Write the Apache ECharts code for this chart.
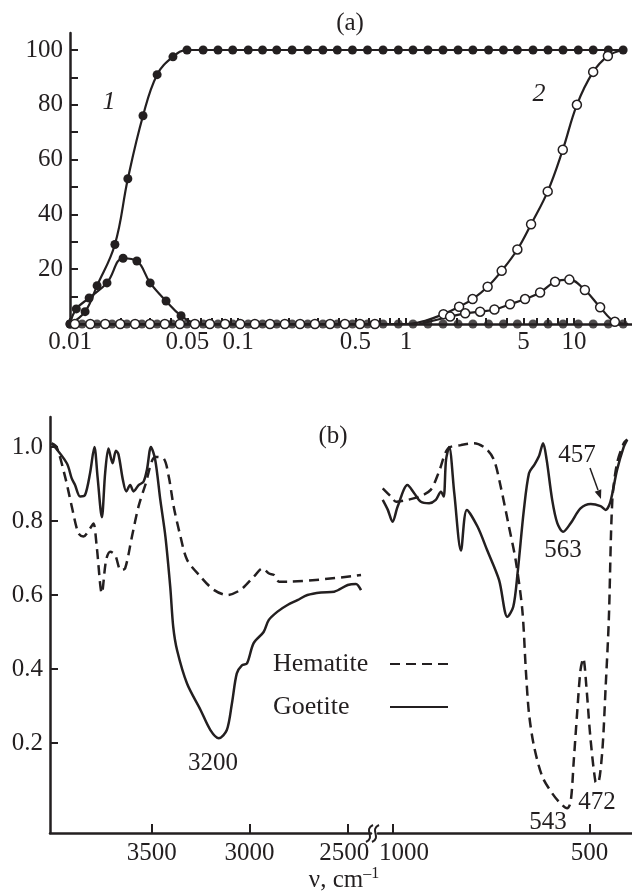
<!DOCTYPE html>
<html>
<head>
<meta charset="utf-8">
<script src="https://cdn.jsdelivr.net/npm/echarts@6.0.0/dist/echarts.min.js"></script>
<style>
html, body { margin: 0; padding: 0; background: #fff; }
#chart { width: 632px; height: 894px; }
</style>
</head>
<body>
<div id="chart"></div>
<script>
// ---------- (a) ----------
// 曲线 1（实心点）
const rise1X = [0.01, 0.0123, 0.0145, 0.0185, 0.0221, 0.0272, 0.033, 0.041, 0.0497,
  0.062, 0.076, 0.093, 0.115, 0.14, 0.17, 0.21, 0.26, 0.32, 0.39, 0.48, 0.59, 0.73, 0.9,
  1.1, 1.35, 1.66, 2.04, 2.5, 3.1, 3.8, 4.6, 5.7, 7.0, 8.6, 10.6, 13, 16, 19.6]
const rise1Y = [0, 4.5, 14, 29, 53, 76, 91, 97.5, 100,
  100, 100, 100, 100, 100, 100, 100, 100, 100, 100, 100, 100, 100, 100,
  100, 100, 100, 100, 100, 100, 100, 100, 100, 100, 100, 100, 100, 100, 100]
const peak1X = [0.01, 0.0109, 0.013, 0.0166, 0.0207, 0.025, 0.030, 0.0373, 0.0458, 0.056]
const peak1Y = [0, 5.5, 9.5, 15, 24, 23, 15, 8.4, 3, 0]
// 曲线 2（空心点）
const rise2X = [0.0107, 0.0132, 0.0162, 0.0199, 0.0244, 0.0299, 0.0367, 0.0451, 0.0554, 0.068,
  0.0837, 0.103, 0.126, 0.155, 0.19, 0.234, 0.287, 0.353, 0.433, 0.532, 0.653,
  1.0, 1.3, 1.67, 2.07, 2.49, 3.06, 3.71, 4.6, 5.55, 6.97, 8.57, 10.4, 13.0, 15.9, 19.5]
const rise2Y = [0, 0, 0, 0, 0, 0, 0, 0, 0, 0,
  0, 0, 0, 0, 0, 0, 0, 0, 0, 0, 0,
  0, 1.2, 3.6, 6.3, 9.1, 13.6, 19.4, 27.2, 36.4, 48.4, 63.6, 80, 92, 97.8, 100]
const peak2X = [1.2, 1.83, 2.25, 2.76, 3.36, 4.16, 5.11, 6.28, 7.71, 9.38, 11.6, 14.3, 17.5, 21]
const peak2Y = [0, 2.7, 3.9, 4.5, 5.3, 7.2, 9.1, 11.5, 15.4, 16.2, 12.4, 6.1, 0.8, 0]
// 基线上的实心点
const baseX = [0.0118, 0.0145, 0.0178, 0.0218, 0.0268, 0.033, 0.0405, 0.0497, 0.062, 0.076,
  0.093, 0.115, 0.14, 0.17, 0.21, 0.26, 0.32, 0.39, 0.48, 0.59, 0.73, 0.9, 1.1, 1.35,
  1.66, 2.04, 2.5, 3.1, 3.8, 4.6, 5.7, 7.0, 8.6, 10.6, 13, 16, 19.6]
const xLabelsA = [0.01, 0.05, 0.1, 0.5, 1, 5, 10]
const xTicksA = [0.01, 0.02, 0.03, 0.04, 0.05, 0.06, 0.07, 0.08, 0.09, 0.1, 0.2, 0.3, 0.4, 0.5,
  0.6, 0.7, 0.8, 0.9, 1, 2, 3, 4, 5, 6, 7, 8, 9, 10, 20]
const yLabelsA = [20, 40, 60, 80, 100]
const yTicksA = [10, 20, 30, 40, 50, 60, 70, 80, 90, 100]

// ---------- (b) ----------
const goetiteLX = [4011, 3934, 3909, 3892, 3866, 3841, 3815, 3793, 3777, 3755, 3738, 3721, 3700,
  3683, 3670, 3647, 3630, 3610, 3593, 3567, 3542, 3524, 3504, 3482, 3456, 3430, 3405, 3390, 3370,
  3319, 3251, 3200, 3157, 3116, 3090, 3065, 3039, 3013, 2979, 2928, 2902, 2857, 2806, 2755, 2704,
  2635, 2567, 2498, 2456, 2430]
const goetiteLY = [1.01, 0.956, 0.915, 0.897, 0.866, 0.87, 0.93, 1.0, 0.92, 0.81, 0.93, 0.996, 0.956,
  0.99, 0.98, 0.91, 0.88, 0.897, 0.88, 0.897, 0.906, 0.94, 1.0, 0.965, 0.857, 0.758, 0.62, 0.514, 0.45,
  0.36, 0.29, 0.235, 0.213, 0.235, 0.307, 0.388, 0.41, 0.415, 0.47, 0.50, 0.532, 0.555, 0.573, 0.586, 0.60,
  0.607, 0.609, 0.627, 0.63, 0.613]
const hematiteLX = [4011, 3986, 3943, 3909, 3875, 3849, 3815, 3798, 3781, 3755, 3733, 3712, 3687,
  3658, 3636, 3601, 3567, 3533, 3482, 3439, 3413, 3388, 3353, 3319, 3251, 3183, 3114, 3046, 2977,
  2934, 2900, 2875, 2849, 2806, 2430]
const hematiteLY = [1.01, 1.0, 0.92, 0.84, 0.767, 0.758, 0.78, 0.793, 0.73, 0.605, 0.695, 0.717, 0.708,
  0.667, 0.672, 0.758, 0.84, 0.897, 0.973, 0.969, 0.92, 0.84, 0.758, 0.695, 0.65, 0.614, 0.60, 0.614, 0.65,
  0.672, 0.658, 0.654, 0.636, 0.636, 0.654]
const goetiteRX = [1026, 1013, 1001, 988, 963, 946, 929, 908, 891, 878, 871, 865, 857, 844, 827,
  812, 785, 760, 730, 709, 694, 683, 667, 654, 641, 629, 618, 609, 595, 582, 567, 548, 523, 497,
  472, 459, 447, 430, 413, 404]
const goetiteRY = [0.857, 0.83, 0.798, 0.839, 0.897, 0.875, 0.852, 0.848, 0.857, 0.879, 0.866, 0.965,
  1.0, 0.875, 0.72, 0.83, 0.785, 0.72, 0.64, 0.541, 0.568, 0.659, 0.83, 0.929, 0.951, 0.974, 1.01, 0.965,
  0.857, 0.794, 0.771, 0.794, 0.834, 0.846, 0.84, 0.83, 0.852, 0.938, 1.0, 1.02]
const hematiteRX = [1026, 1005, 992, 963, 933, 904, 883, 860, 827, 794, 764, 743, 726, 705, 688,
  671, 662, 654, 641, 620, 595, 574, 557, 548, 540, 531, 523, 516, 508, 498, 485, 479, 468, 459,
  451, 442, 430, 413, 404]
const hematiteRY = [0.888, 0.866, 0.852, 0.857, 0.866, 0.884, 0.933, 0.996, 1.005, 1.01, 0.996, 0.965,
  0.893, 0.785, 0.695, 0.56, 0.397, 0.28, 0.19, 0.109, 0.064, 0.037, 0.0235, 0.041, 0.154, 0.289, 0.397,
  0.429, 0.352, 0.217, 0.095, 0.091, 0.172, 0.352, 0.532, 0.857, 0.956, 1.01, 1.02]
const xLabelsBL = [3500, 3000, 2500]
const xLabelsBR = [1000, 500]
const yLabelsB = [0.2, 0.4, 0.6, 0.8, 1.0]

const FONT = 'Liberation Serif'
const INK = '#231f20'

// 对数坐标：数据取 log10，部分点不画符号
function logPts (xs, ys, bare) {
  return xs.map((x, i) => {
    const p = { value: [Math.log10(x), ys[i]] }
    if (bare && bare.indexOf(i) > -1) p.symbol = 'none'
    return p
  })
}
function pts (xs, ys) {
  return xs.map((x, i) => [x, ys[i]])
}

const axisText = { color: INK, fontFamily: FONT, fontSize: 25 }
const axisLine = { show: true, onZero: false, lineStyle: { color: INK, width: 2.5 } }
const tick = (vals, len) => ({ show: true, inside: true, length: len, customValues: vals, lineStyle: { color: INK, width: 2 } })

const filled = { color: INK }
const hollow = { color: '#fff', borderColor: INK, borderWidth: 1.5 }

const option = {
  animation: false,
  backgroundColor: '#fff',
  grid: [
    { left: 70, right: 0, top: 33, bottom: 570 },
    { left: 50, right: 261, top: 417, bottom: 61 },
    { left: 378, right: 0, top: 417, bottom: 61 }
  ],
  xAxis: [{
    gridIndex: 0,
    type: 'value',
    min: -2,
    max: 1.345,
    axisLine,
    axisTick: tick(xTicksA.map(v => Math.log10(v)), 6),
    axisLabel: {
      ...axisText,
      margin: 6,
      customValues: xLabelsA.map(v => Math.log10(v)),
      formatter: v => String(parseFloat(Math.pow(10, v).toPrecision(2)))
    },
    splitLine: { show: false }
  }, {
    gridIndex: 1,
    type: 'value',
    inverse: true,
    min: 2379,
    max: 4020,
    axisLine,
    axisTick: tick(xLabelsBL, 9),
    axisLabel: {
      ...axisText,
      margin: 8,
      customValues: xLabelsBL,
      formatter: v => v === 2500 ? '{l|' + v + '}' : String(v),
      rich: { l: { ...axisText, padding: [0, 6, 0, 0] } }
    },
    splitLine: { show: false }
  }, {
    gridIndex: 2,
    type: 'value',
    inverse: true,
    min: 392,
    max: 1038,
    axisLine,
    axisTick: tick(xLabelsBR, 9),
    axisLabel: {
      ...axisText,
      margin: 8,
      customValues: xLabelsBR,
      formatter: v => v === 1000 ? '{r|' + v + '}' : String(v),
      rich: { r: { ...axisText, padding: [0, 0, 0, 22] } }
    },
    splitLine: { show: false }
  }],
  yAxis: [{
    gridIndex: 0,
    type: 'value',
    min: 0,
    max: 106.2,
    axisLine,
    axisTick: tick(yTicksA, 8),
    axisLabel: { ...axisText, margin: 7, customValues: yLabelsA },
    splitLine: { show: false }
  }, {
    gridIndex: 1,
    type: 'value',
    min: -0.0432,
    max: 1.081,
    axisLine,
    axisTick: tick(yLabelsB, 8),
    axisLabel: { ...axisText, margin: 7, customValues: yLabelsB, formatter: v => v.toFixed(1) },
    splitLine: { show: false }
  }, {
    gridIndex: 2,
    type: 'value',
    min: -0.0432,
    max: 1.081,
    show: false
  }],
  legend: {
    data: ['Hematite', 'Goetite'],
    orient: 'vertical',
    align: 'right',
    left: 273,
    top: 651,
    padding: 0,
    itemGap: 17,
    itemWidth: 58,
    itemHeight: 14,
    selectedMode: false,
    itemStyle: { color: 'rgba(0,0,0,0)', borderWidth: 0, opacity: 0 },
    formatter: '{n|{name}}',
    textStyle: {
      rich: { n: { width: 112, align: 'left', color: INK, fontFamily: FONT, fontSize: 26, lineHeight: 30 } }
    }
  },
  series: [
    {
      type: 'line', xAxisIndex: 0, yAxisIndex: 0, smooth: 0.4, z: 3,
      symbol: 'circle', symbolSize: 9, itemStyle: filled,
      lineStyle: { color: INK, width: 2.2 },
      data: logPts(rise1X, rise1Y)
    },
    {
      type: 'line', xAxisIndex: 0, yAxisIndex: 0, smooth: 0.4,
      symbol: 'circle', symbolSize: 9, itemStyle: filled,
      lineStyle: { color: INK, width: 2.2 },
      data: logPts(peak1X, peak1Y, [9])
    },
    {
      type: 'scatter', xAxisIndex: 0, yAxisIndex: 0,
      symbol: 'circle', symbolSize: 9, itemStyle: filled,
      data: logPts(baseX, baseX.map(() => 0))
    },
    {
      type: 'line', xAxisIndex: 0, yAxisIndex: 0, smooth: 0.4,
      symbol: 'circle', symbolSize: 9, itemStyle: hollow,
      lineStyle: { color: INK, width: 2.2 },
      data: logPts(rise2X, rise2Y, [21, 22, 35])
    },
    {
      type: 'line', xAxisIndex: 0, yAxisIndex: 0, smooth: 0.4,
      symbol: 'circle', symbolSize: 9, itemStyle: hollow,
      lineStyle: { color: INK, width: 2.2 },
      data: logPts(peak2X, peak2Y, [0, 13])
    },
    {
      name: 'Hematite', type: 'line', xAxisIndex: 1, yAxisIndex: 1, smooth: 0.3, symbol: 'none',
      itemStyle: { color: INK },
      lineStyle: { color: INK, width: 2.5, type: [10, 6] },
      data: pts(hematiteLX, hematiteLY)
    },
    {
      name: 'Goetite', type: 'line', xAxisIndex: 1, yAxisIndex: 1, smooth: 0.3, symbol: 'none',
      itemStyle: { color: INK },
      lineStyle: { color: INK, width: 2.5 },
      data: pts(goetiteLX, goetiteLY)
    },
    {
      name: 'Hematite', type: 'line', xAxisIndex: 2, yAxisIndex: 2, smooth: 0.3, symbol: 'none',
      itemStyle: { color: INK },
      lineStyle: { color: INK, width: 2.5, type: [10, 6] },
      data: pts(hematiteRX, hematiteRY)
    },
    {
      name: 'Goetite', type: 'line', xAxisIndex: 2, yAxisIndex: 2, smooth: 0.3, symbol: 'none',
      itemStyle: { color: INK },
      lineStyle: { color: INK, width: 2.5 },
      data: pts(goetiteRX, goetiteRY)
    }
  ],
  graphic: [
    { type: 'text', x: 350, y: 23, style: { text: '(a)', ...axisText, align: 'center', verticalAlign: 'middle', fill: INK } },
    { type: 'text', x: 109, y: 102, style: { text: '1', fontFamily: FONT, fontSize: 26, fontStyle: 'italic', align: 'center', verticalAlign: 'middle', fill: INK } },
    { type: 'text', x: 539, y: 94, style: { text: '2', fontFamily: FONT, fontSize: 26, fontStyle: 'italic', align: 'center', verticalAlign: 'middle', fill: INK } },
    { type: 'text', x: 333, y: 436, style: { text: '(b)', ...axisText, align: 'center', verticalAlign: 'middle', fill: INK } },
    { type: 'text', x: 213, y: 763, style: { text: '3200', ...axisText, align: 'center', verticalAlign: 'middle', fill: INK } },
    { type: 'text', x: 563, y: 550, style: { text: '563', ...axisText, align: 'center', verticalAlign: 'middle', fill: INK } },
    { type: 'text', x: 577, y: 455, style: { text: '457', ...axisText, align: 'center', verticalAlign: 'middle', fill: INK } },
    { type: 'text', x: 597, y: 802, style: { text: '472', ...axisText, align: 'center', verticalAlign: 'middle', fill: INK } },
    { type: 'text', x: 548, y: 822, style: { text: '543', ...axisText, align: 'center', verticalAlign: 'middle', fill: INK } },
    {
      type: 'text', x: 344, y: 880,
      style: {
        text: '{m|ν, cm}{s|–1}',
        align: 'center',
        verticalAlign: 'middle',
        rich: {
          m: { fontFamily: FONT, fontSize: 25, fill: INK, lineHeight: 28 },
          s: { fontFamily: FONT, fontSize: 16, fill: INK, verticalAlign: 'top', lineHeight: 28 }
        }
      }
    },
    // 457 箭头
    { type: 'line', shape: { x1: 590, y1: 468, x2: 598, y2: 490 }, style: { stroke: INK, lineWidth: 1.5 } },
    { type: 'polygon', shape: { points: [[601, 499], [601.3, 489.3], [594.7, 491.7]] }, style: { fill: INK } },
    // 断轴符号
    { type: 'bezierCurve', shape: { x1: 366, y1: 842, x2: 373, y2: 825, cpx1: 376, cpy1: 837, cpx2: 363, cpy2: 830 }, style: { stroke: INK, lineWidth: 2, fill: null } },
    { type: 'bezierCurve', shape: { x1: 372, y1: 842, x2: 379, y2: 825, cpx1: 382, cpy1: 837, cpx2: 369, cpy2: 830 }, style: { stroke: INK, lineWidth: 2, fill: null } }
  ]
}

const chart = echarts.init(document.getElementById('chart'))
chart.setOption(option, true)
</script>
</body>
</html>
